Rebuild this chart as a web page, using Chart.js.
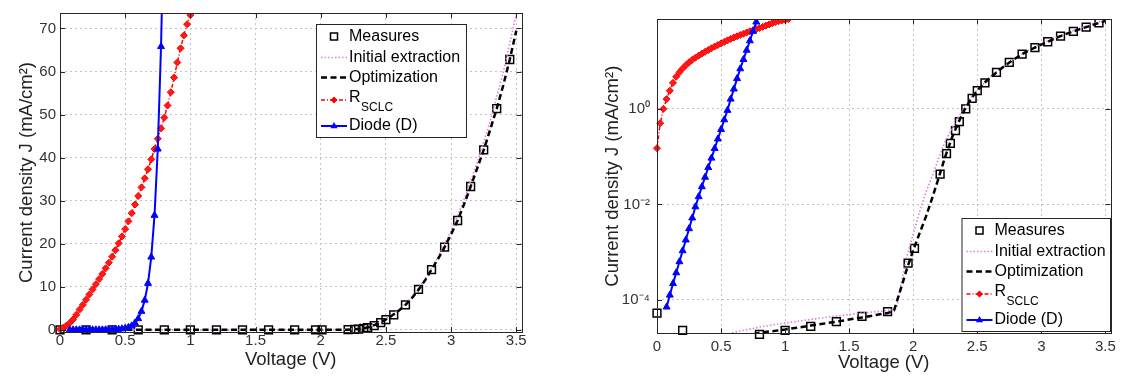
<!DOCTYPE html>
<html>
<head>
<meta charset="utf-8">
<script src="https://cdn.jsdelivr.net/npm/chart.js@4.4.1/dist/chart.umd.min.js"></script>
<style>
  html, body { margin: 0; padding: 0; background: #fff; }
  body { width: 1126px; height: 377px; position: relative; overflow: hidden; }
  canvas { position: absolute; top: 0; }
  #linChart { left: 0; }
  #logChart { left: 560px; }
</style>
</head>
<body>
<canvas id="linChart" width="545" height="377"></canvas>
<canvas id="logChart" width="566" height="377"></canvas>
<script>
// --- data (V in volts, J in mA/cm2) ---
const measV = [0, 0.2, 0.4, 0.6, 0.8, 1.0, 1.2, 1.4, 1.6, 1.8, 1.96, 2.01, 2.21, 2.26, 2.29, 2.33, 2.36, 2.41, 2.46, 2.5, 2.56, 2.65, 2.75, 2.85, 2.95, 3.05, 3.15, 3.25, 3.35, 3.45];
const measJ = [5.3e-5, 2.3e-5, 1.0e-5, 1.1e-5, 1.9e-5, 2.3e-5, 2.8e-5, 3.5e-5, 4.5e-5, 5.7e-5, 5.9e-4, 1.2e-3, 0.043, 0.115, 0.19, 0.35, 0.54, 1.0, 1.66, 2.4, 3.5, 5.8, 9.4, 14.0, 19.2, 25.4, 33.3, 41.8, 51.4, 62.8];

const initV = [0, 0.2, 0.4, 0.5, 0.6, 0.8, 1.0, 1.2, 1.4, 1.6, 1.8, 1.87, 1.9, 1.95, 2.0, 2.05, 2.1, 2.15, 2.2, 2.25, 2.3, 2.35, 2.4, 2.45, 2.5, 2.6, 2.7, 2.8, 2.9, 3.0, 3.1, 3.2, 3.3, 3.4, 3.5, 3.55];
const initJ = [1e-6, 3e-6, 9e-6, 1.5e-5, 2.1e-5, 2.7e-5, 3.3e-5, 3.9e-5, 4.6e-5, 5.3e-5, 6.0e-5, 6.6e-5, 1.8e-4, 8.0e-4, 2.4e-3, 7.0e-3, 0.018, 0.04, 0.095, 0.21, 0.38, 0.66, 1.05, 1.7, 2.5, 4.6, 7.6, 11.8, 16.9, 23.0, 30.3, 38.8, 48.5, 59.8, 73.4, 81];

const optV = [0, 0.2, 0.4, 0.6, 0.7, 0.8, 1.0, 1.2, 1.4, 1.6, 1.8, 1.85, 1.9, 1.95, 2.0, 2.05, 2.1, 2.15, 2.2, 2.25, 2.3, 2.35, 2.4, 2.45, 2.5, 2.55, 2.6, 2.65, 2.7, 2.75, 2.8, 2.85, 2.9, 2.95, 3.0, 3.05, 3.1, 3.15, 3.2, 3.25, 3.3, 3.35, 3.4, 3.45, 3.5];
const optJ = [3e-6, 6e-6, 1.0e-5, 1.45e-5, 1.75e-5, 2.05e-5, 2.4e-5, 2.9e-5, 3.5e-5, 4.3e-5, 5.3e-5, 6.0e-5, 1.6e-4, 4.4e-4, 1.1e-3, 2.5e-3, 5.6e-3, 0.014, 0.037, 0.1, 0.24, 0.5, 0.95, 1.6, 2.4, 3.4, 4.5, 5.8, 7.4, 9.3, 11.5, 14.0, 16.5, 19.2, 22.2, 25.4, 29.2, 33.3, 37.5, 41.8, 46.5, 51.4, 56.8, 62.8, 69.5];

const sclcV = [0, 0.025, 0.05, 0.075, 0.1, 0.125, 0.15, 0.175, 0.2, 0.225, 0.25, 0.275, 0.3, 0.325, 0.35, 0.375, 0.4, 0.425, 0.45, 0.475, 0.5, 0.525, 0.55, 0.575, 0.6, 0.625, 0.65, 0.675, 0.7, 0.725, 0.75, 0.775, 0.8, 0.825, 0.85, 0.875, 0.9, 0.925, 0.95, 0.975, 1.0, 1.025];
const sclcJ = [0.15, 0.5, 1.0, 1.6, 2.4, 3.5, 4.7, 5.8, 7.0, 8.2, 9.4, 10.6, 11.8, 13.0, 14.3, 15.6, 17.0, 18.5, 20.1, 21.7, 23.4, 25.2, 27.1, 29.1, 31.1, 33.1, 35.2, 37.3, 39.6, 42.0, 44.4, 46.8, 49.3, 52.1, 55.2, 58.6, 62.1, 65.4, 68.4, 71.0, 73.1, 75.4];

const diodeV = [0.075, 0.1, 0.125, 0.15, 0.175, 0.2, 0.225, 0.25, 0.275, 0.3, 0.325, 0.35, 0.375, 0.4, 0.425, 0.45, 0.475, 0.5, 0.525, 0.55, 0.575, 0.6, 0.625, 0.65, 0.675, 0.7, 0.725, 0.75, 0.775, 0.8];
const diodeJ = [7.1e-5, 1.26e-4, 2.2e-4, 3.7e-4, 6.3e-4, 1.07e-3, 1.8e-3, 3.1e-3, 5.2e-3, 8.9e-3, 0.0145, 0.0234, 0.037, 0.059, 0.093, 0.148, 0.234, 0.37, 0.59, 0.93, 1.6, 2.6, 4.3, 6.9, 10.8, 16.9, 26.6, 42, 65.8, 100];

// ticks
const xTickValues = [0, 0.5, 1, 1.5, 2, 2.5, 3, 3.5];
const linTickValues = [0, 10, 20, 30, 40, 50, 60, 70];
const logTickValues = [1e-4, 1e-2, 1];
const logTickLabels = ['10\u207B\u2074', '10\u207B\u00B2', '10\u2070'];

const FONT = '"Liberation Sans", Arial, Helvetica, sans-serif';
Chart.defaults.font.family = FONT;
Chart.defaults.color = '#262626';

const GRID = '#c4c4c4';
const PINK = '#e27de2';
const legendRowY = [12.5, 33.5, 53.5, 76, 102];

function pts(xs, ys) {
    return xs.map((x, i) => ({ x: x, y: ys[i] }));
}

function buildDatasets() {
    const edgeClip = { left: 8, top: 0, right: 0, bottom: 8 };
    return [
        { label: 'Measures', data: pts(measV, measJ), showLine: false, pointStyle: 'rect', pointRadius: 5.5,
          pointBorderWidth: 1.5, pointBorderColor: '#000', pointBackgroundColor: 'rgba(0,0,0,0)', borderColor: '#000',
          order: 5, clip: edgeClip },
        { label: 'Initial extraction', data: pts(initV, initJ), borderColor: PINK, borderWidth: 1.6,
          borderDash: [1.5, 2], pointRadius: 0, order: 4, clip: 0 },
        { label: 'Optimization', data: pts(optV, optJ), borderColor: '#000', borderWidth: 2.5,
          borderDash: [6, 3.5], pointRadius: 0, order: 3, clip: 0 },
        { label: 'R_SCLC', data: pts(sclcV, sclcJ), borderColor: '#ff0000', borderWidth: 1.5, borderDash: [4, 2, 1, 2],
          pointStyle: 'rectRot', pointRadius: 3.5, pointBorderWidth: 1, pointBackgroundColor: '#ff1a1a',
          pointBorderColor: '#ff0000', order: 2, clip: edgeClip },
        { label: 'Diode (D)', data: pts(diodeV, diodeJ), borderColor: '#0000ff', borderWidth: 2,
          pointStyle: 'triangle', pointRadius: 4, pointBorderWidth: 1, pointBackgroundColor: '#0000ff',
          pointBorderColor: '#0000ff', order: 1, clip: edgeClip }
    ];
}

function drawLegend(ctx, L) {
    const x = L.left, y = L.top;
    ctx.save();
    ctx.fillStyle = '#fff';
    ctx.fillRect(x, y, L.w, L.h);
    ctx.strokeStyle = '#262626';
    ctx.lineWidth = 1;
    ctx.strokeRect(x + 0.5, y + 0.5, L.w, L.h);

    const x0 = x + 5, x1 = x + 31, xm = (x0 + x1) / 2, tx = x + 33;
    const r = legendRowY.map(v => y + v);

    function seg(yy, color, width, dash) {
        ctx.beginPath();
        ctx.setLineDash(dash);
        ctx.strokeStyle = color;
        ctx.lineWidth = width;
        ctx.moveTo(x0, yy);
        ctx.lineTo(x1, yy);
        ctx.stroke();
        ctx.setLineDash([]);
    }

    // Measures
    ctx.strokeStyle = '#000';
    ctx.lineWidth = 1.5;
    ctx.strokeRect(xm - 3.5, r[0] - 3.5, 7, 7);
    // Initial extraction
    seg(r[1], PINK, 1.6, [1.5, 2]);
    // Optimization
    seg(r[2], '#000', 2.5, [6, 3.5]);
    // R_SCLC
    seg(r[3], '#ff0000', 1.5, [4, 2, 1, 2]);
    ctx.fillStyle = '#ff0000';
    ctx.beginPath();
    ctx.moveTo(xm, r[3] - 3.5); ctx.lineTo(xm + 3.5, r[3]); ctx.lineTo(xm, r[3] + 3.5); ctx.lineTo(xm - 3.5, r[3]);
    ctx.closePath();
    ctx.fill();
    // Diode
    seg(r[4], '#0000ff', 2, []);
    ctx.fillStyle = '#0000ff';
    ctx.beginPath();
    ctx.moveTo(xm, r[4] - 4); ctx.lineTo(xm + 3.6, r[4] + 2.2); ctx.lineTo(xm - 3.6, r[4] + 2.2);
    ctx.closePath();
    ctx.fill();

    ctx.fillStyle = '#000';
    ctx.textBaseline = 'middle';
    ctx.textAlign = 'left';
    ctx.font = '16px ' + FONT;
    ctx.fillText('Measures', tx, r[0]);
    ctx.fillText('Initial extraction', tx, r[1]);
    ctx.fillText('Optimization', tx, r[2]);
    ctx.fillText('R', tx, r[3] - 2.5);
    const rw = ctx.measureText('R').width;
    ctx.fillText('Diode (D)', tx, r[4]);
    ctx.font = '12px ' + FONT;
    ctx.fillText('SCLC', tx + rw + 0.5, r[3] + 7.5);
    ctx.restore();
}

// axes frame, inner tick marks and in-plot legend
const matlabBox = {
    id: 'matlabBox',
    afterDraw(chart, args, opts) {
        const ctx = chart.ctx, a = chart.chartArea;
        const sx = chart.scales.x, sy = chart.scales.y;
        ctx.save();
        ctx.strokeStyle = '#262626';
        ctx.lineWidth = 1;
        ctx.beginPath();
        sx.ticks.forEach(t => {
            const px = Math.round(sx.getPixelForValue(t.value)) + 0.5;
            ctx.moveTo(px, a.bottom); ctx.lineTo(px, a.bottom - 5);
            ctx.moveTo(px, a.top); ctx.lineTo(px, a.top + 5);
        });
        sy.ticks.forEach(t => {
            const py = Math.round(sy.getPixelForValue(t.value)) + 0.5;
            ctx.moveTo(a.left, py); ctx.lineTo(a.left + 5, py);
            ctx.moveTo(a.right, py); ctx.lineTo(a.right - 5, py);
        });
        ctx.stroke();
        ctx.strokeRect(Math.round(a.left) + 0.5, Math.round(a.top) + 0.5,
                       Math.round(a.right - a.left), Math.round(a.bottom - a.top));
        ctx.restore();
        if (opts.legend) drawLegend(ctx, opts.legend);
    }
};

function xScale(height, labelPad, titlePad) {
    return {
        type: 'linear', min: 0, max: 3.54,
        afterFit: s => { s.height = height; },
        afterBuildTicks: s => { s.ticks = xTickValues.map(v => ({ value: v })); },
        ticks: { autoSkip: false, maxRotation: 0, padding: labelPad, font: { size: 15 }, color: '#333',
                 callback: v => String(v) },
        grid: { color: GRID, lineWidth: 1, drawTicks: false },
        border: { display: false, dash: [2, 3] },
        title: { display: true, text: 'Voltage (V)', font: { size: 18.5 }, color: '#222',
                 padding: { top: 0, bottom: titlePad } }
    };
}

function yTitle(pad) {
    return { display: true, text: 'Current density J (mA/cm\u00B2)', font: { size: 18.5 }, color: '#222',
             padding: { top: pad, bottom: 0 } };
}

// left panel: linear
new Chart(document.getElementById('linChart'), {
    type: 'line',
    data: { datasets: buildDatasets() },
    options: {
        responsive: false, animation: false, events: [], devicePixelRatio: 1,
        layout: { padding: { top: 12, right: 23.5, left: 0, bottom: 0 } },
        scales: {
            x: xScale(45, 0, 6),
            y: {
                type: 'linear', min: -0.5, max: 73.6,
                afterFit: s => { s.width = 60; },
                afterBuildTicks: s => { s.ticks = linTickValues.map(v => ({ value: v })); },
                ticks: { padding: 4, font: { size: 15 }, color: '#333', callback: v => String(v) },
                grid: { color: GRID, lineWidth: 1, drawTicks: false },
                border: { display: false, dash: [2, 3] },
                title: yTitle(16)
            }
        },
        plugins: {
            legend: { display: false },
            tooltip: { enabled: false },
            matlabBox: { legend: { left: 316, top: 24, w: 150, h: 113 } }
        }
    },
    plugins: [matlabBox]
});

// right panel: logarithmic
new Chart(document.getElementById('logChart'), {
    type: 'line',
    data: { datasets: buildDatasets() },
    options: {
        responsive: false, animation: false, events: [], devicePixelRatio: 1,
        layout: { padding: { top: 19, right: 15.5, left: 0, bottom: 0 } },
        scales: {
            x: xScale(43.7, 5, 3),
            y: {
                type: 'logarithmic', min: 2e-5, max: 76,
                afterFit: s => { s.width = 97; },
                afterBuildTicks: s => { s.ticks = logTickValues.map(v => ({ value: v })); },
                ticks: { padding: 7, font: { size: 15 }, color: '#333',
                         callback: v => { const i = logTickValues.indexOf(v); return i < 0 ? '' : logTickLabels[i]; } },
                grid: { color: GRID, lineWidth: 1, drawTicks: false },
                border: { display: false, dash: [2, 3] },
                title: yTitle(42)
            }
        },
        plugins: {
            legend: { display: false },
            tooltip: { enabled: false },
            matlabBox: { legend: { left: 401.5, top: 218, w: 148.5, h: 113 } }
        }
    },
    plugins: [matlabBox]
});
</script>
</body>
</html>
